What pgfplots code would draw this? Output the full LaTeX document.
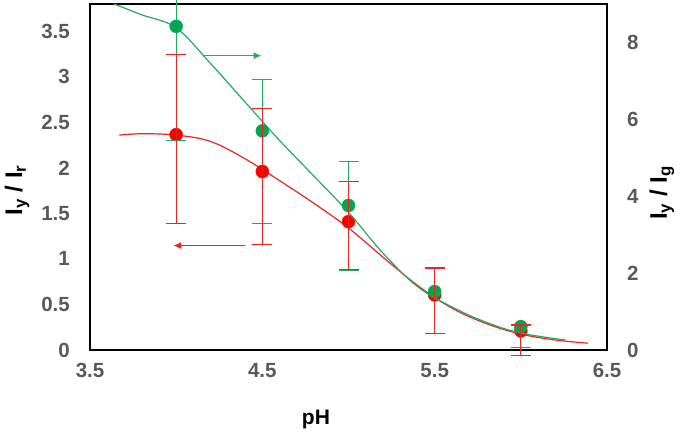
\documentclass[border=0pt]{standalone}
\usepackage{pgfplots}
\pgfplotsset{compat=1.18}
\usetikzlibrary{arrows.meta}
\usepackage{fontspec}
\setmainfont{Liberation Sans}
\definecolor{tickgray}{RGB}{89,89,89}
\definecolor{myred}{RGB}{250,0,0}
\definecolor{lred}{RGB}{235,35,35}
\definecolor{mygreen}{RGB}{0,166,81}
\definecolor{lgreen}{RGB}{35,172,95}
\pgfplotsset{
  base/.style={
    scale only axis, width=517pt, height=346pt,
    at={(0,0)}, anchor=south west,
    xmin=3.5, xmax=6.5, clip=false,
    /pgf/number format/assume math mode=true,
    tick label style={font=\fontsize{20.5}{24}\selectfont\bfseries, text=tickgray, inner sep=0pt},
    major tick length=0pt,
    axis line style={line width=1.5pt, black},
    yticklabel shift=20pt,
    xticklabel shift=13pt,
  }
}
\begin{document}
\begin{tikzpicture}
\useasboundingbox (-90pt,-81pt) rectangle (595pt,350pt);
% ---------- left axis: red ----------
\begin{axis}[base,
  ymin=0, ymax=3.8,
  ytick={0,0.5,1,1.5,2,2.5,3,3.5},
  yticklabels={0,0.5,1,1.5,2,2.5,3,3.5},
  xtick={3.5,4.5,5.5,6.5},
  xticklabels={3.5,4.5,5.5,6.5},
  xlabel={\fontsize{21}{24}\selectfont\bfseries pH},
  xlabel style={at={(axis description cs:0.437,-0.2)}, anchor=center},
  ylabel={\fontsize{24}{28}\selectfont\bfseries I\textsubscript{y} / I\textsubscript{r}},
  ylabel style={at={(axis description cs:-0.141,0.462)}, anchor=center},
]
\addplot[lred, line width=1.2pt, smooth, tension=0.6] coordinates {
 (3.67,2.36) (3.80,2.375) (4.00,2.36) (4.20,2.29) (4.40,2.10) (4.60,1.86)
 (4.80,1.61) (5.00,1.34) (5.20,1.02) (5.40,0.71) (5.60,0.46) (5.80,0.29)
 (6.00,0.175) (6.20,0.11) (6.39,0.075)
};
\addplot[only marks, mark=*, mark size=6.5pt, mark options={draw=myred, fill=myred}] coordinates {
 (4.0,2.365) (4.5,1.96) (5.0,1.41) (5.5,0.605) (6.0,0.21)
};
\end{axis}
% ---------- right axis: green ----------
\begin{axis}[base,
  ymin=0, ymax=9,
  axis x line=none,
  axis y line*=right,
  ytick={0,2,4,6,8},
  yticklabels={0,2,4,6,8},
  ylabel={\fontsize{24}{28}\selectfont\bfseries I\textsubscript{y} / I\textsubscript{g}},
  ylabel style={at={(axis description cs:1.106,0.454)}, anchor=center},
]
\addplot[lgreen, line width=1.2pt, smooth, tension=0.6] coordinates {
 (3.64,9.00) (3.80,8.72) (4.00,8.38) (4.20,7.45) (4.40,6.45) (4.60,5.45)
 (4.80,4.52) (5.00,3.58) (5.20,2.52) (5.40,1.65) (5.60,1.12) (5.80,0.72)
 (6.00,0.44) (6.26,0.26)
};
\addplot[only marks, mark=*, mark size=6.5pt, mark options={draw=mygreen, fill=mygreen}] coordinates {
 (4.0,8.42) (4.5,5.70) (5.0,3.76) (5.5,1.52) (6.0,0.61)
};
\addplot[draw=none, mark=none,
  error bars/.cd, y dir=both, y explicit,
  error bar style={draw=lgreen, line width=1.2pt},
  error mark options={rotate=90, mark size=10pt, draw=lgreen, line width=1.2pt}]
 coordinates {
 (4.0,8.42) += (0,0.77) -= (0,2.98)
 (4.5,5.70) += (0,1.33) -= (0,2.40)
 (5.0,3.76) += (0,1.14) -= (0,1.68)
 (5.5,1.52) += (0,0.61) -= (0,1.09)
 (6.0,0.61) += (0,0.05) -= (0,0.54)
};
\addplot[lgreen, line width=1.2pt, -{Latex[length=8pt,width=7pt]}] coordinates {(4.157,7.656) (4.496,7.656)};
\end{axis}
% ---------- hidden left axis: red error bars on top ----------
\begin{axis}[base,
  ymin=0, ymax=3.8,
  hide axis,
]
\addplot[draw=none, mark=none,
  error bars/.cd, y dir=both, y explicit,
  error bar style={draw=lred, line width=1.2pt},
  error mark options={rotate=90, mark size=10pt, draw=lred, line width=1.2pt}]
 coordinates {
 (4.0,2.365) += (0,0.88) -= (0,0.975)
 (4.5,1.96) += (0,0.69) -= (0,0.80)
 (5.0,1.41) += (0,0.44) -= (0,0.53)
 (5.5,0.605) += (0,0.295) -= (0,0.42)
 (6.0,0.21) += (0,0.065) -= (0,0.27)
};
\addplot[lred, line width=1.2pt, -{Latex[length=8pt,width=7pt]}] coordinates {(4.399,1.147) (3.983,1.147)};
\end{axis}
\end{tikzpicture}
\end{document}
